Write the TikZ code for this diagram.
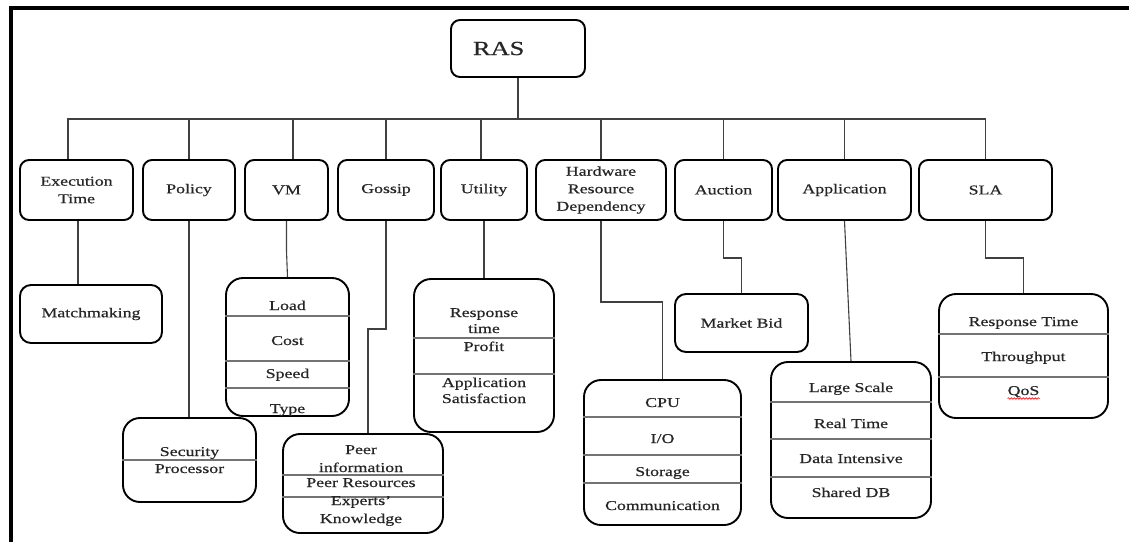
\documentclass[tikz,border=0pt]{standalone}
\usepackage{fontspec}
\setmainfont{Liberation Serif}[FakeStretch=1.32, FakeBold=0.6]
\usetikzlibrary{decorations.pathmorphing}

\tikzset{
  cat/.style={draw, line width=1.9pt, rounded corners=9pt, align=center, inner sep=0pt},
  listbox/.style={draw, line width=1.9pt, rounded corners=17pt, inner sep=0pt},
  item/.style={anchor=base, inner sep=0pt},
  conn/.style={line width=1.1pt, draw=black!75},
  divider/.style={line width=1.2pt, draw=black!55},
}

\begin{document}
\begin{tikzpicture}[x=1pt, y=-1pt, font=\fontsize{13.5}{17.5}\selectfont, text=black!85]
  \useasboundingbox (0,0) rectangle (1129,542);
  % frame
  \draw[line width=3.5pt] (11,542) -- (11,8) -- (1129,8);

  % root
  \node[cat, minimum height=57pt, text width=90pt, align=left, inner xsep=22pt,
        font=\fontsize{20}{24}\selectfont] (ras) at (518,48.5) {RAS};
  \coordinate (bus) at (518,119);
  \draw[conn] (ras.south) -- (bus);

  % strategies
  \node[cat, minimum width=113pt, minimum height=60pt] (exec) at (76.5,190) {Execution\\Time};
  \node[cat, minimum width=92pt, minimum height=60pt] (policy) at (189,190) {Policy};
  \node[cat, minimum width=83pt, minimum height=60pt] (vm) at (286.5,190) {VM};
  \node[cat, minimum width=96pt, minimum height=60pt] (gossip) at (386,190) {Gossip};
  \node[cat, minimum width=86pt, minimum height=60pt] (utility) at (484,190) {Utility};
  \node[cat, minimum width=130pt, minimum height=60pt] (hrd) at (601,190) {Hardware\\Resource\\Dependency};
  \node[cat, minimum width=97pt, minimum height=60pt] (auction) at (723.5,190) {Auction};
  \node[cat, minimum width=133pt, minimum height=60pt] (application) at (844.5,190) {Application};
  \node[cat, minimum width=133pt, minimum height=60pt] (sla) at (985.5,190) {SLA};

  \draw[conn] ([xshift=-8.5pt]exec.north) |- (bus);
  \draw[conn] ([xshift=6.5pt]vm.north) |- (bus);
  \draw[conn] ([xshift=-3pt]utility.north) |- (bus);
  \foreach \n in {policy,gossip,hrd,auction,application,sla}
    \draw[conn] (\n.north) |- (bus);

  % execution time
  \node[cat, rounded corners=11pt, minimum width=142pt, minimum height=58pt] (match) at (91,314) {Matchmaking};
  \draw[conn] ([xshift=1.5pt]exec.south) -- ([xshift=1.5pt]exec.south |- match.north);

  % policy
  \node[listbox, minimum width=133pt, minimum height=84pt] (polist) at (189.5,460) {};
  \draw[divider] (polist.west |- 0,460) -- (polist.east |- 0,460);
  \node[item] (poitem1) at (189.5,456) {Security};
  \node[item] (poitem2) at (189.5,473) {Processor};
  \draw[conn] (policy.south) -- (policy.south |- polist.north);

  % vm
  \node[listbox, minimum width=123pt, minimum height=138pt] (vmlist) at (287.5,347) {};
  \foreach \y in {316,361,388}
    \draw[divider] (vmlist.west |- 0,\y) -- (vmlist.east |- 0,\y);
  \foreach \t/\y [count=\i] in {Load/310,Cost/345,Speed/378,Type/413}
    \node[item] (vmitem\i) at (287.5,\y) {\t};
  \draw[conn] (vm.south) -- ++(0,30) -- (vmlist.north);

  % gossip
  \node[listbox, minimum width=160pt, minimum height=99pt] (golist) at (363,483.5) {};
  \foreach \y in {475,497}
    \draw[divider] (golist.west |- 0,\y) -- (golist.east |- 0,\y);
  \foreach \t/\y [count=\i] in {Peer/454,information/472,Peer Resources/487,Experts'/505,Knowledge/523}
    \node[item] (goitem\i) at (361,\y) {\t};
  \draw[conn] (gossip.south) -- ++(0,108) -| ([xshift=5pt]golist.north);

  % utility
  \node[listbox, minimum width=140pt, minimum height=153pt] (utlist) at (484,355.5) {};
  \foreach \y in {338,374}
    \draw[divider] (utlist.west |- 0,\y) -- (utlist.east |- 0,\y);
  \foreach \t/\y [count=\i] in {Response/317,time/333,Profit/351,Application/387,Satisfaction/403}
    \node[item] (utitem\i) at (484,\y) {\t};
  \draw[conn] (utility.south) -- (utility.south |- utlist.north);

  % hardware resource dependency
  \node[listbox, minimum width=157pt, minimum height=145pt] (hwlist) at (662.5,452.5) {};
  \foreach \y in {417,455,483}
    \draw[divider] (hwlist.west |- 0,\y) -- (hwlist.east |- 0,\y);
  \foreach \t/\y [count=\i] in {CPU/407,{I/O}/443,Storage/476,Communication/510}
    \node[item] (hwitem\i) at (662.5,\y) {\t};
  \draw[conn] (hrd.south) -- ++(0,81) -| (hwlist.north);

  % auction
  \node[cat, rounded corners=11pt, minimum width=133pt, minimum height=58pt] (bid) at (741.5,323) {Market Bid};
  \draw[conn] (auction.south) -- ++(0,37) -| (bid.north);

  % application
  \node[listbox, minimum width=160pt, minimum height=156pt] (aplist) at (851,440) {};
  \foreach \y in {402,439,477}
    \draw[divider] (aplist.west |- 0,\y) -- (aplist.east |- 0,\y);
  \foreach \t/\y [count=\i] in {Large Scale/392,Real Time/428,Data Intensive/463,Shared DB/497}
    \node[item] (apitem\i) at (851,\y) {\t};
  \draw[conn] (application.south) -- (aplist.north);

  % sla
  \node[listbox, minimum width=169pt, minimum height=124pt] (slalist) at (1023.5,356) {};
  \foreach \y in {334,377}
    \draw[divider] (slalist.west |- 0,\y) -- (slalist.east |- 0,\y);
  \foreach \t/\y [count=\i] in {Response Time/326,Throughput/361,QoS/395}
    \node[item] (slaitem\i) at (1023.5,\y) {\t};
  \draw[red, line width=0.6pt, decorate, decoration={snake, amplitude=0.8pt, segment length=3pt}]
    ([yshift=-3.5pt]slaitem3.base west) -- ([yshift=-3.5pt]slaitem3.base east);
  \draw[conn] (sla.south) -- ++(0,37) -| (slalist.north);
\end{tikzpicture}
\end{document}
